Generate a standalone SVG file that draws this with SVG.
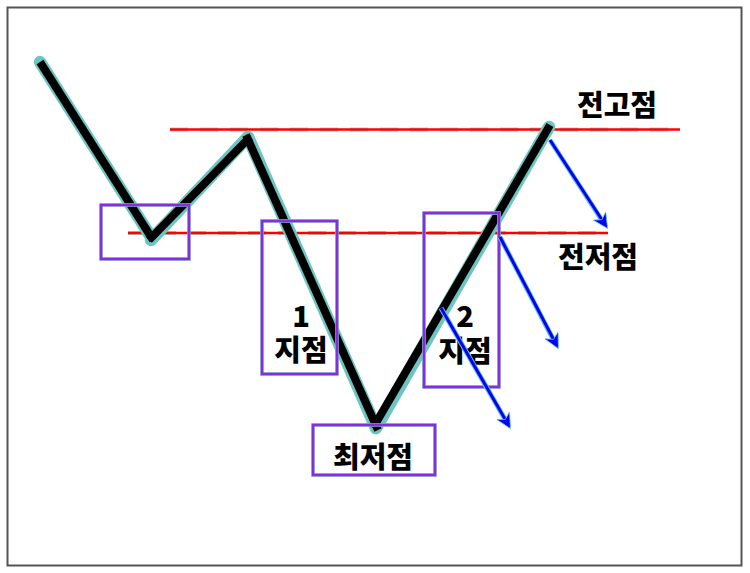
<svg xmlns="http://www.w3.org/2000/svg" width="750" height="573" viewBox="0 0 750 573">
<style>
.halo{stroke:#6cc5c2;stroke-width:12.5;stroke-linecap:round;fill:none}
.main{stroke:#000;stroke-width:8;stroke-linecap:butt;fill:none}
.rh{stroke:#9fd6cf;stroke-width:4;fill:none;stroke-dasharray:18 12}
.rl{stroke:#ff0000;stroke-width:2.6;fill:none}
.box{fill:none;stroke:#8a2be2;stroke-width:2.6}
.boxh{fill:none;stroke:#7fcbc6;stroke-width:3.6}
.ah{stroke:#6cc5c2;stroke-width:5;fill:none}
.ar{stroke:#0000ff;stroke-width:3;fill:none}
.t{font-family:"Noto Sans CJK KR","Liberation Sans",sans-serif;font-weight:900;font-size:29px;fill:#000;text-anchor:middle}
</style>
<defs>
<marker id="arr" viewBox="0 0 10 10" refX="8" refY="5" markerWidth="5" markerHeight="5" orient="auto" markerUnits="strokeWidth">
<path d="M0,0 L10,5 L0,10 L3,5 Z" fill="#0000ff" stroke="#6cc5c2" stroke-width="0.5"/>
</marker>
</defs>
<rect x="7.5" y="7.5" width="734" height="558" fill="#fff" stroke="#555" stroke-width="2"/>
<g id="levels">
<line class="rh" x1="170" y1="129.5" x2="680" y2="129.5"/>
<line class="rl" x1="170" y1="129.5" x2="680" y2="129.5"/>
<line class="rh" x1="128" y1="233" x2="608" y2="233"/>
<line class="rl" x1="128" y1="233" x2="608" y2="233"/>
</g>
<g id="price">
<polyline class="halo" points="40,62 151,237" />
<polyline class="halo" points="151,240 248,137" />
<polyline class="halo" points="248,137 376,428" />
<polyline class="halo" points="376,428 549,127" />
<line class="main" x1="40" y1="62" x2="153" y2="240"/>
<line class="main" x1="149" y1="240" x2="250" y2="137"/>
<line class="main" x1="246" y1="135" x2="378" y2="430"/>
<line class="main" x1="373" y1="428" x2="550" y2="125"/>
</g>
<g id="box-low1"><rect class="boxh" x="101" y="205" width="88" height="54"/><rect class="box" x="101" y="205" width="88" height="54"/></g>
<g id="box-point1"><rect class="boxh" x="262" y="221" width="75" height="153"/><rect class="box" x="262" y="221" width="75" height="153"/>
<text class="t" x="301" y="327">1</text><text class="t" x="301" y="361">지점</text></g>
<g id="box-point2"><rect class="boxh" x="424" y="213" width="75" height="174"/><rect class="box" x="424" y="213" width="75" height="174"/>
<text class="t" x="465" y="327">2</text><text class="t" x="465" y="362">지점</text></g>
<g id="box-lowest"><rect class="boxh" x="313" y="425" width="122" height="50"/><rect class="box" x="313" y="425" width="122" height="50"/>
<text class="t" x="373" y="468">최저점</text></g>
<g id="label-high"><text class="t" x="617" y="116">전고점</text></g>
<g id="label-low"><text class="t" x="598" y="268">전저점</text></g>
<g id="connectors">
<line class="ah" x1="550" y1="140" x2="603" y2="222"/>
<line class="ar" x1="550" y1="140" x2="606" y2="226" marker-end="url(#arr)"/>
<line class="ah" x1="500" y1="237" x2="554" y2="341"/>
<line class="ar" x1="500" y1="237" x2="557" y2="346" marker-end="url(#arr)"/>
<line class="ah" x1="441" y1="308" x2="506" y2="421"/>
<line class="ar" x1="441" y1="308" x2="509" y2="426" marker-end="url(#arr)"/>
</g>
</svg>
